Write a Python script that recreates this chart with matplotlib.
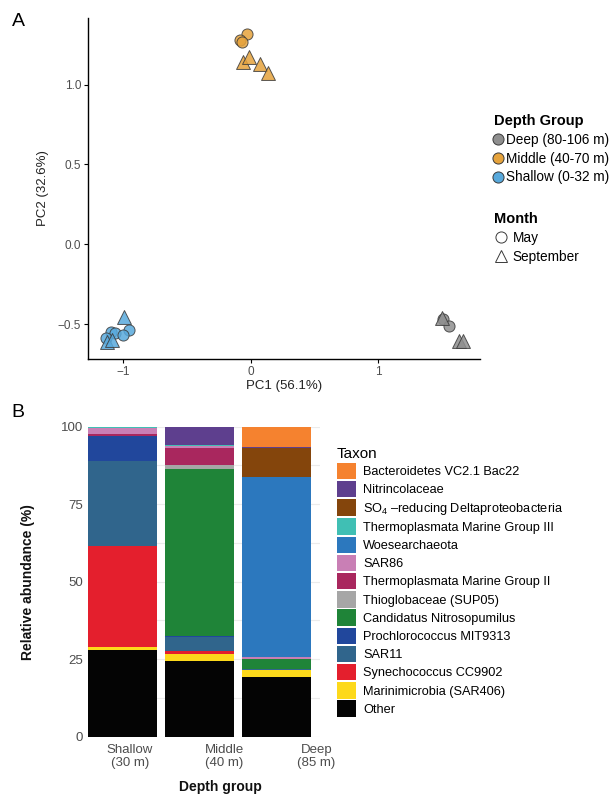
import matplotlib
matplotlib.use("Agg")
import matplotlib.pyplot as plt
import matplotlib.transforms as mtransforms
from matplotlib.lines import Line2D
from matplotlib.patches import Patch

plt.rcParams['font.family'] = ['Liberation Sans', 'DejaVu Sans']
plt.rcParams['mathtext.fontset'] = 'custom'
plt.rcParams['mathtext.rm'] = 'Liberation Sans'

# --- PCA scores (panel A) ---
grupos = ['Deep (80-106 m)', 'Middle (40-70 m)', 'Shallow (0-32 m)']
colores_grupo = ['#8f8f8f', '#e6a33c', '#58a9dc']

mayo_pc1 = {
    'Deep (80-106 m)': [1.51, 1.556],
    'Middle (40-70 m)': [-0.026, -0.081, -0.068],
    'Shallow (0-32 m)': [-1.097, -1.063, -0.951, -1.000, -1.136],
}
mayo_pc2 = {
    'Deep (80-106 m)': [-0.465, -0.51],
    'Middle (40-70 m)': [1.317, 1.279, 1.265],
    'Shallow (0-32 m)': [-0.547, -0.553, -0.537, -0.568, -0.589],
}
sept_pc1 = {
    'Deep (80-106 m)': [1.498, 1.634, 1.665],
    'Middle (40-70 m)': [-0.063, -0.013, 0.076, 0.137],
    'Shallow (0-32 m)': [-0.99, -1.128, -1.089],
}
sept_pc2 = {
    'Deep (80-106 m)': [-0.46, -0.606, -0.606],
    'Middle (40-70 m)': [1.140, 1.172, 1.126, 1.074],
    'Shallow (0-32 m)': [-0.458, -0.61, -0.599],
}

# --- Relative abundance (panel B), stacked bottom -> top ---
profundidades = ['Shallow\n(30 m)', 'Middle\n(40 m)', 'Deep\n(85 m)']
taxones = ['Other', 'Marinimicrobia (SAR406)', 'Synechococcus CC9902', 'SAR11',
           'Prochlorococcus MIT9313', 'Candidatus Nitrosopumilus',
           'Thioglobaceae (SUP05)', 'Thermoplasmata Marine Group II', 'SAR86',
           'Woesearchaeota', 'Thermoplasmata Marine Group III',
           'SO$_4$ \u2013reducing Deltaproteobacteria', 'Nitrincolaceae',
           'Bacteroidetes VC2.1 Bac22']
colores_taxon = ['#040404', '#fdd91b', '#e41f2d', '#30658c', '#21479c', '#1f8438',
                 '#a6a6a6', '#a9275e', '#c97fb5', '#2c78be', '#40bfb4', '#84450c',
                 '#5e3f8e', '#f5822f']
abund_shallow = [28.0, 1.0, 32.5, 27.4, 8.1, 0.0, 0.0, 0.5, 2.0, 0.1, 0.4, 0.0, 0.0, 0.0]
abund_middle = [24.4, 2.3, 1.1, 4.5, 0.3, 53.7, 1.3, 5.5, 0.6, 0.0, 0.5, 0.0, 5.8, 0.0]
abund_deep = [19.25, 2.25, 0.0, 0.3, 0.2, 3.0, 0.2, 0.0, 0.4, 58.1, 0.0, 9.4, 0.4, 6.5]

W, H = 611, 794
fig = plt.figure(figsize=(W / 100, H / 100), dpi=100)

def caja(x0, y0, x1, y1):
    # pixel box (top-left origin) -> figure fraction rect
    return [x0 / W, 1 - y1 / H, (x1 - x0) / W, (y1 - y0) / H]

# ---------------- Panel A ----------------
ax = fig.add_axes(caja(88, 18, 480, 359))
for g, c in zip(grupos, colores_grupo):
    ax.scatter(mayo_pc1[g], mayo_pc2[g], s=64, marker='o', color=c, alpha=0.85,
               edgecolors='#3a3a3a', linewidths=0.7, zorder=3)
    ax.scatter(sept_pc1[g], sept_pc2[g], s=100, marker='^', color=c, alpha=0.85,
               edgecolors='#3a3a3a', linewidths=0.7, zorder=3)

ax.set_xlim(-1.275, 1.80)
ax.set_ylim(-0.718, 1.417)
ax.set_xticks([-1, 0, 1])
ax.set_xticklabels(['\u22121', '0', '1'])
ax.set_yticks([-0.5, 0.0, 0.5, 1.0])
ax.set_yticklabels(['\u22120.5', '0.0', '0.5', '1.0'])
for s in ['top', 'right']:
    ax.spines[s].set_visible(False)
for s in ['left', 'bottom']:
    ax.spines[s].set_linewidth(1.0)
ax.tick_params(labelsize=8.5, labelcolor='#4d4d4d', length=3, width=0.8, pad=2)
ax.set_xlabel('PC1 (56.1%)', fontsize=9.5, color='#222222', labelpad=1.5)
ax.set_ylabel('PC2 (32.6%)', fontsize=9.5, color='#222222', labelpad=6)

h_grupo = [Line2D([], [], marker='o', ls='', markersize=8, markerfacecolor=c,
                  markeredgecolor='#3a3a3a', markeredgewidth=0.7) for c in colores_grupo]
fig.legend(h_grupo, grupos, loc='upper left', bbox_to_anchor=(494 / W, 1 - 114 / H),
           frameon=False, fontsize=9.8, title='Depth Group',
           title_fontproperties={'weight': 'bold', 'size': 10.5},
           alignment='left', handlelength=0.6, handletextpad=0.25,
           labelspacing=0.35, borderpad=0, borderaxespad=0)

h_mes = [Line2D([], [], marker='o', ls='', markersize=8, markerfacecolor='white',
                markeredgecolor='#3a3a3a', markeredgewidth=0.7),
         Line2D([], [], marker='^', ls='', markersize=9, markerfacecolor='white',
                markeredgecolor='#3a3a3a', markeredgewidth=0.7)]
fig.legend(h_mes, ['May', 'September'], loc='upper left', bbox_to_anchor=(494 / W, 1 - 212 / H),
           frameon=False, fontsize=9.8, title='Month',
           title_fontproperties={'weight': 'bold', 'size': 10.5},
           alignment='left', handlelength=1.0, handletextpad=0.35,
           labelspacing=0.35, borderpad=0, borderaxespad=0)

# ---------------- Panel B ----------------
bx = fig.add_axes(caja(88.3, 426.7, 320, 736.7))
posiciones = [1, 2, 3]
filas = list(zip(abund_shallow, abund_middle, abund_deep))
base = [0.0, 0.0, 0.0]
for valores, c in zip(filas, colores_taxon):
    bx.bar(posiciones, valores, width=0.9, bottom=base, color=c, linewidth=0, zorder=2)
    base = [b + v for b, v in zip(base, valores)]

bx.set_xlim(0.55, 3.57)
bx.set_ylim(0, 100)
bx.set_yticks([0, 25, 50, 75, 100])
bx.set_yticks([12.5, 37.5, 62.5, 87.5], minor=True)
bx.grid(axis='y', which='both', color='#ebebeb', linewidth=0.8, zorder=0)
bx.set_xticks(posiciones)
bx.set_xticklabels(profundidades)
for s in bx.spines.values():
    s.set_visible(False)
bx.tick_params(axis='both', which='both', length=0, labelsize=9.5, labelcolor='#4d4d4d')
bx.tick_params(axis='y', pad=4)
bx.tick_params(axis='x', pad=5)
# category labels sit to the right of the bar centres
for lab, dx in zip(bx.get_xticklabels(), [7, 25, 40]):
    lab.set_transform(lab.get_transform() + mtransforms.ScaledTranslation(dx / 100, 0, fig.dpi_scale_trans))
bx.set_ylabel('Relative abundance (%)', fontsize=10, fontweight='bold', color='#111111', labelpad=18)
bx.set_xlabel('Depth group', fontsize=10, fontweight='bold', color='#111111', labelpad=8)
bx.xaxis.set_label_coords((220 - 88.3) / (320 - 88.3), -0.14)

h_taxon = [Patch(facecolor=c, edgecolor='none') for c in colores_taxon[::-1]]
fig.legend(h_taxon, taxones[::-1], loc='upper left', bbox_to_anchor=(337 / W, 1 - 447 / H),
           frameon=False, fontsize=9.2, title='Taxon', title_fontsize=11,
           alignment='left', handlelength=1.5, handleheight=1.6, handletextpad=0.55,
           labelspacing=0.14, borderpad=0, borderaxespad=0)

fig.text(18 / W, 1 - 22 / H, 'A', fontsize=14, ha='center', va='center')
fig.text(18 / W, 1 - 412 / H, 'B', fontsize=14, ha='center', va='center')

fig.savefig('out.png', dpi=100)
